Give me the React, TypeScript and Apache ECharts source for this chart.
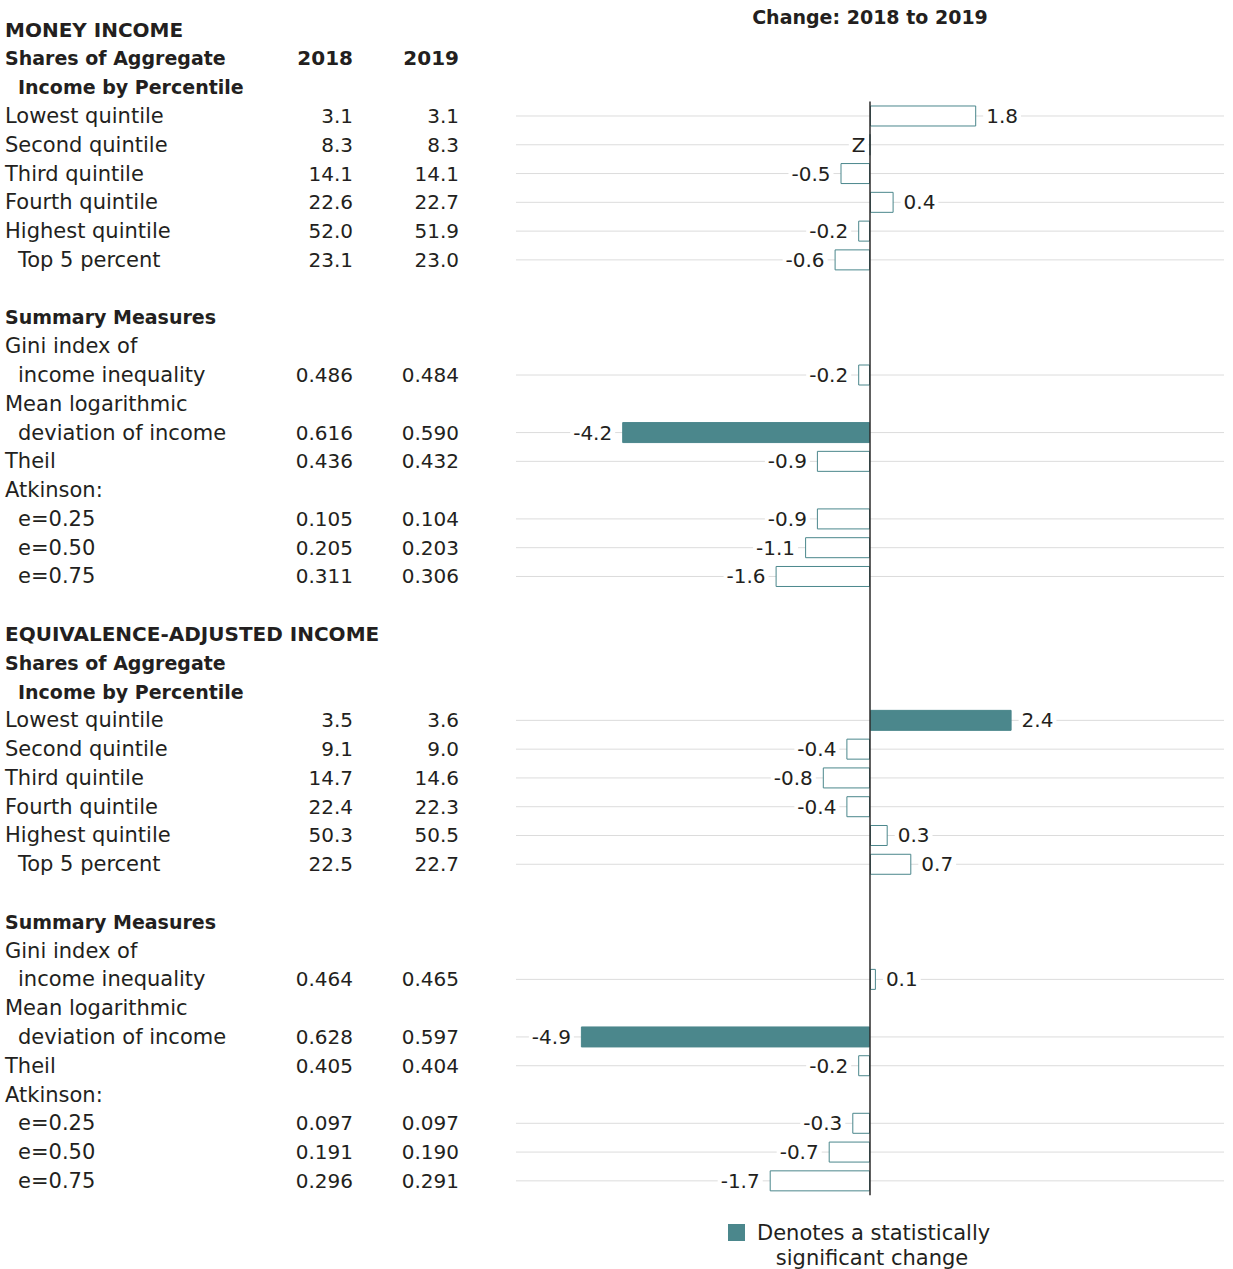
import React, { useEffect, useRef } from "react";
import * as echarts from "echarts";

const sectionHeaders = ["MONEY INCOME", "Shares of Aggregate", "Income by Percentile"];
const yearHeaders = ["2018", "2019"];
const chartTitle = "Change: 2018 to 2019";
const legendLines = ["Denotes a statistically", "significant change"];

const rowLabels = [
  "Lowest quintile", "Second quintile", "Third quintile", "Fourth quintile", "Highest quintile", "Top 5 percent",
  "", "Summary Measures", "Gini index of", "income inequality", "Mean logarithmic", "deviation of income",
  "Theil", "Atkinson:", "e=0.25", "e=0.50", "e=0.75",
  "", "EQUIVALENCE-ADJUSTED INCOME", "Shares of Aggregate", "Income by Percentile",
  "Lowest quintile", "Second quintile", "Third quintile", "Fourth quintile", "Highest quintile", "Top 5 percent",
  "", "Summary Measures", "Gini index of", "income inequality", "Mean logarithmic", "deviation of income",
  "Theil", "Atkinson:", "e=0.25", "e=0.50", "e=0.75",
];
const indentedRows = [5, 9, 11, 14, 15, 16, 20, 26, 30, 32, 35, 36, 37];
const boldRows = [7, 18, 19, 20, 28];

const values2018 = [
  "3.1", "8.3", "14.1", "22.6", "52.0", "23.1",
  "", "", "", "0.486", "", "0.616", "0.436", "", "0.105", "0.205", "0.311",
  "", "", "", "",
  "3.5", "9.1", "14.7", "22.4", "50.3", "22.5",
  "", "", "", "0.464", "", "0.628", "0.405", "", "0.097", "0.191", "0.296",
];
const values2019 = [
  "3.1", "8.3", "14.1", "22.7", "51.9", "23.0",
  "", "", "", "0.484", "", "0.590", "0.432", "", "0.104", "0.203", "0.306",
  "", "", "", "",
  "3.6", "9.0", "14.6", "22.3", "50.5", "22.7",
  "", "", "", "0.465", "", "0.597", "0.404", "", "0.097", "0.190", "0.291",
];
const changes: (number | null)[] = [
  1.8, 0, -0.5, 0.4, -0.2, -0.6,
  null, null, null, -0.2, null, -4.2, -0.9, null, -0.9, -1.1, -1.6,
  null, null, null, null,
  2.4, -0.4, -0.8, -0.4, 0.3, 0.7,
  null, null, null, 0.1, null, -4.9, -0.2, null, -0.3, -0.7, -1.7,
];
const changeLabelOverrides: Record<number, string> = { 1: "Z" };
const significantRows = [11, 21, 32];

const TEAL = "#4b878c";
const TEXT = "#231f20";
const FONT = "DejaVu Sans";

export default function App() {
  const ref = useRef<HTMLDivElement>(null);
  useEffect(() => {
    if (!ref.current) return;
    const chart = echarts.init(ref.current, undefined, { renderer: "svg" });
    const gridTop = 101.6;
    const rowH = 28.78;
    const nRows = rowLabels.length;
    const gridLeft = 516;
    const gridRight = 9;
    const rowY = (i: number) => gridTop + (i + 0.5) * rowH;
    const numSize = 20;
    const labelSize = 21;
    const boldSize = 19;
    const capsSize = 20;
    const labelX = 5;
    const indentX = 18;
    const col2018 = 353;
    const col2019 = 459;

    const graphics: any[] = [];
    const addText = (text: string, x: number, y: number, align: string, bold: boolean, size: number) => {
      graphics.push({
        type: "text",
        x,
        y,
        style: {
          text,
          fill: TEXT,
          font: `${bold ? "bold " : ""}${size}px "${FONT}"`,
          align,
          verticalAlign: "middle",
        },
      });
    };
    const headingSize = (t: string) => (t === t.toUpperCase() ? capsSize : boldSize);
    sectionHeaders.forEach((t, k) => {
      addText(t, k === 2 ? indentX : labelX, rowY(k - 3), "left", true, headingSize(t));
    });
    addText(yearHeaders[0], col2018, rowY(-2), "right", true, capsSize);
    addText(yearHeaders[1], col2019, rowY(-2), "right", true, capsSize);
    rowLabels.forEach((t, i) => {
      if (!t) return;
      const bold = boldRows.includes(i);
      addText(t, indentedRows.includes(i) ? indentX : labelX, rowY(i), "left", bold, bold ? headingSize(t) : labelSize);
      if (values2018[i]) addText(values2018[i], col2018, rowY(i), "right", false, numSize);
      if (values2019[i]) addText(values2019[i], col2019, rowY(i), "right", false, numSize);
    });
    addText(chartTitle, 870, 17, "center", true, boldSize);
    graphics.push({
      type: "rect",
      shape: { x: 728, y: 1224, width: 17, height: 17 },
      style: { fill: TEAL },
    });
    addText(legendLines[0], 757, 1233, "left", false, labelSize);
    addText(legendLines[1], 872, 1258, "center", false, labelSize);

    const rowIds = rowLabels.map((_, i) => String(i));
    const barData = changes.map((v, i) => {
      if (v === null) return "-";
      const sig = significantRows.includes(i);
      const neg = v < 0 || changeLabelOverrides[i] !== undefined;
      return {
        value: v,
        itemStyle: { color: sig ? TEAL : "#ffffff", borderColor: TEAL, borderWidth: 1 },
        label: {
          show: true,
          position: neg ? "left" : "right",
          distance: changeLabelOverrides[i] !== undefined ? 1 : 7,
          formatter: changeLabelOverrides[i] ?? v.toFixed(1),
        },
      };
    });
    const gridRowData = changes
      .map((v, i) => (v === null ? null : [0, i]))
      .filter((d) => d !== null);

    chart.setOption({
      animation: false,
      textStyle: { fontFamily: FONT },
      grid: { left: gridLeft, right: gridRight, top: gridTop, height: nRows * rowH, containLabel: false },
      xAxis: {
        type: "value",
        min: -6,
        max: 6,
        axisLine: { show: false },
        axisTick: { show: false },
        axisLabel: { show: false },
        splitLine: { show: false },
      },
      yAxis: {
        type: "category",
        inverse: true,
        data: rowIds,
        axisLine: { show: false },
        axisTick: { show: false },
        axisLabel: { show: false },
        splitLine: { show: false },
      },
      series: [
        {
          type: "custom",
          z: 1,
          silent: true,
          encode: { x: 0, y: 1 },
          data: gridRowData,
          renderItem: (params: any, api: any) => {
            const y = api.coord([0, api.value(1)])[1];
            const cs = params.coordSys;
            return {
              type: "line",
              shape: { x1: cs.x, y1: y, x2: cs.x + cs.width, y2: y },
              style: { stroke: "#dcdcdc", lineWidth: 1 },
            };
          },
        },
        {
          type: "bar",
          z: 2,
          barWidth: 21,
          data: barData,
          label: {
            color: TEXT,
            fontSize: numSize,
            fontFamily: FONT,
            backgroundColor: "#ffffff",
            padding: [0, 3],
          },
          markLine: {
            silent: true,
            symbol: "none",
            label: { show: false },
            lineStyle: { color: "#2b2b2b", width: 1.5, type: "solid" },
            data: [{ xAxis: 0 }],
          },
        },
      ],
      graphic: graphics,
    });
    return () => chart.dispose();
  }, []);
  return (
    <div
      ref={ref}
      style={{ position: "absolute", left: 0, top: 0, width: 1233, height: 1269, background: "#fff" }}
    />
  );
}
